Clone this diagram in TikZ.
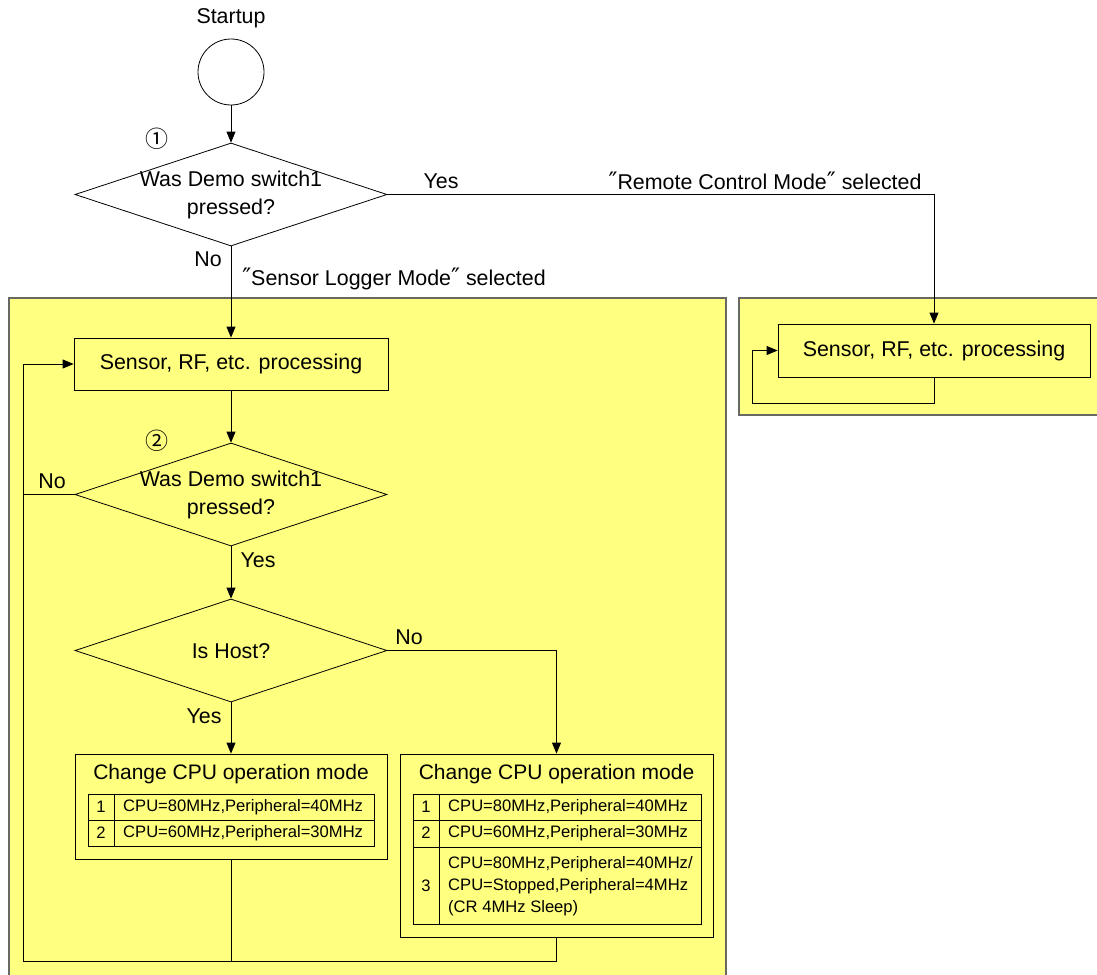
\documentclass[tikz,border=0pt]{standalone}
\usepackage{fontspec}
\setmainfont{Liberation Sans}
\newfontfamily\djv{DejaVu Sans}
\newfontfamily\cjk{Noto Sans CJK JP}
\usetikzlibrary{arrows.meta,shapes.geometric}
\definecolor{yfill}{RGB}{255,255,128}
\definecolor{rborder}{RGB}{105,105,100}
\tikzset{
  arr/.style={-{Triangle[length=11pt,width=9pt]}},
  ln/.style={line width=0.8pt},
  region/.style={draw=rborder,line width=1.3pt,fill=yfill},
  procbox/.style={draw,line width=0.8pt,rectangle,inner sep=0pt,font=\fontsize{21.4}{24}\selectfont},
  dec/.style={draw,line width=0.8pt,diamond,inner sep=0pt,minimum width=312pt,minimum height=103pt},
  dtext/.style={align=center,font=\fontsize{21.4}{28}\selectfont},
  lbl/.style={font=\fontsize{21.4}{24}\selectfont,inner sep=0pt},
  ttl/.style={font=\fontsize{21}{24}\selectfont,inner sep=0pt},
  tbl/.style={font=\fontsize{16.6}{22}\selectfont,inner sep=0pt},
  num/.style={font=\cjk\fontsize{23}{24}\selectfont,inner sep=0pt},
}
\newcommand{\dq}{{\djv\fontsize{24}{24}\selectfont ″}}
\begin{document}
\begin{tikzpicture}[x=1pt,y=-1pt]
\useasboundingbox (0,0) rectangle (1097,974);
\fill[white] (0,0) rectangle (1097,974);
% regions
\path[region] (9,298) rectangle (726,976);
\path[region] (739,298) rectangle (1100,415);
% start
\node[lbl] (st) at (231,18) {Startup};
\node[draw,ln,circle,minimum size=66pt,inner sep=0pt] (circ) at (231,72) {};
% decision 1
\node[dec,fill=white] (d1) at (231,194.5) {};
\node[dtext] (d1t) at (231,195) {Was Demo switch1\\pressed?};
\node[num] (n1) at (157,139) {①};
% right process
\node[procbox,minimum width=312pt,minimum height=53pt] (rproc) at (934,350.5) {Sensor, RF, etc. processing};
% left process
\node[procbox,minimum width=314pt,minimum height=52pt] (lproc) at (231,364) {Sensor, RF, etc. processing};
% decision 2
\node[dec] (d2) at (231,494.5) {};
\node[dtext] (d2t) at (231,495) {Was Demo switch1\\pressed?};
\node[num] (n2) at (157,441) {②};
% decision 3
\node[dec,minimum height=103pt] (d3) at (231,650.5) {};
\node[lbl] (d3t) at (231,651) {Is Host?};
% CPU boxes
\node[draw,ln,rectangle,minimum width=312pt,minimum height=105pt,inner sep=0pt] (lcpu) at (231,806.5) {};
\node[draw,ln,rectangle,minimum width=313pt,minimum height=183pt,inner sep=0pt] (rcpu) at (556.5,845.5) {};
\node[ttl] (lcput) at (231,774) {Change CPU operation mode};
\node[ttl] (rcput) at (556.5,774) {Change CPU operation mode};
% left table
\draw[ln] (88,794) rectangle (374,846);
\draw[ln] (88,820) -- (374,820);
\draw[ln] (114,794) -- (114,846);
\node[tbl] (l1n) at (101,807) {1};
\node[tbl,anchor=west] (l1t) at (123,807) {CPU=80MHz,Peripheral=40MHz};
\node[tbl] (l2n) at (101,833) {2};
\node[tbl,anchor=west] (l2t) at (123,833) {CPU=60MHz,Peripheral=30MHz};
% right table
\draw[ln] (413,794) rectangle (701,924);
\draw[ln] (413,820) -- (701,820);
\draw[ln] (413,847) -- (701,847);
\draw[ln] (439,794) -- (439,924);
\node[tbl] (r1n) at (426,807) {1};
\node[tbl,anchor=west] (r1t) at (448,807) {CPU=80MHz,Peripheral=40MHz};
\node[tbl] (r2n) at (426,833) {2};
\node[tbl,anchor=west] (r2t) at (448,833) {CPU=60MHz,Peripheral=30MHz};
\node[tbl] (r3n) at (426,886) {3};
\node[tbl,anchor=west] (r3a) at (448,864) {CPU=80MHz,Peripheral=40MHz/};
\node[tbl,anchor=west] (r3b) at (448,886) {CPU=Stopped,Peripheral=4MHz};
\node[tbl,anchor=west] (r3c) at (448,908) {(CR 4MHz Sleep)};
% labels
\node[lbl] (y1) at (441,181) {Yes};
\node[lbl] (rcm) at (765,181) {\dq Remote Control Mode\dq{} selected};
\node[lbl] (no1) at (208,259) {No};
\node[lbl] (slm) at (394,279) {\dq Sensor Logger Mode\dq{} selected};
\node[lbl] (no2) at (52,481) {No};
\node[lbl] (y2) at (258,560) {Yes};
\node[lbl] (no3) at (409,637) {No};
\node[lbl] (y3) at (204,716) {Yes};
% loop coordinates
\coordinate (lt) at (23,364);
\coordinate (lb) at (23,961);
\coordinate (rb) at (752,403);
% connectors
\draw[ln,arr] (circ) -- (d1.north);
\draw[ln,arr] (d1.east) -| (rproc.north);
\draw[ln,arr] (d1.south) -- (lproc.north);
\draw[ln,arr] (lproc.south) -- (d2.north);
\draw[ln,arr] (d2.west) -- (d2.west -| lt) -- (lt) -- (lproc.west);
\draw[ln,arr] (d2.south) -- (d3.north);
\draw[ln,arr] (d3.south) -- (lcpu.north);
\draw[ln,arr] (d3.east) -| (rcpu.north);
\draw[ln] (lcpu.south) -- (lcpu.south |- lb) -- (lb) -- (d2.west -| lb);
\draw[ln] (rcpu.south) -- (rcpu.south |- lb) -- (lcpu.south |- lb);
\draw[ln,arr] (rproc.south) -- (rproc.south |- rb) -- (rb) -- (rb |- rproc.west) -- (rproc.west);
\end{tikzpicture}
\end{document}
